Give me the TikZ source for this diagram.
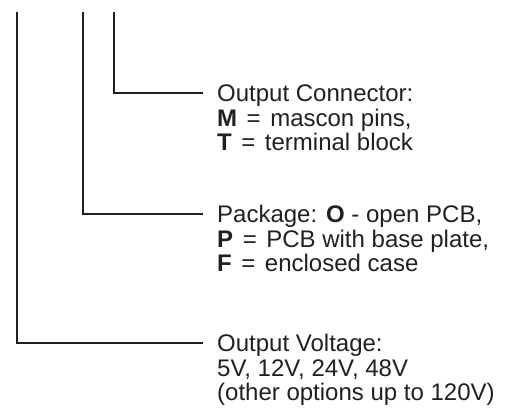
\documentclass[tikz,border=0pt]{standalone}
\usepackage{fontspec}
\setmainfont{Liberation Sans}
\definecolor{ink}{HTML}{231F20}
\newcommand{\eqs}{\hspace{0.12em}=\hspace{0.12em}}
\begin{document}
\begin{tikzpicture}[x=1pt,y=1pt,
  lead/.style={draw=ink,line width=2.6pt},
  lbl/.style={anchor=base west,inner sep=0pt,text=ink,font=\fontsize{24}{24}\selectfont}]
\useasboundingbox (0,0) rectangle (512,410);
% texts (baseline = centre of caps + 8.6)
\node[lbl] (a1) at (217,308.4) {Output Connector:};
\node[lbl] (a2) at (217,283.9) {\textbf{M} \eqs{} mascon pins,};
\node[lbl] (a3) at (217,259.4) {\textbf{T} \eqs{} terminal block};
\node[lbl] (b1) at (217,187.4) {Package: \textbf{O} - open PCB,};
\node[lbl] (b2) at (217,162.9) {\textbf{P} \eqs{} PCB with base plate,};
\node[lbl] (b3) at (217,138.4) {\textbf{F} \eqs{} enclosed case};
\node[lbl] (c1) at (217,58.4) {Output Voltage:};
\node[lbl] (c2) at (217,33.9) {5V, 12V, 24V, 48V};
\node[lbl] (c3) at (217,9.4) {(other options up to 120V)};
% leader tops and ends
\coordinate (t1) at (17,398);
\coordinate (t2) at (83,398);
\coordinate (t3) at (114,398);
\coordinate (e1) at ([xshift=-14pt,yshift=8.6pt]c1.base west);
\coordinate (e2) at ([xshift=-14pt,yshift=8.6pt]b1.base west);
\coordinate (e3) at ([xshift=-14pt,yshift=8.6pt]a1.base west);
\draw[lead] (t1) |- (e1);
\draw[lead] (t2) |- (e2);
\draw[lead] (t3) |- (e3);
\end{tikzpicture}
\end{document}
